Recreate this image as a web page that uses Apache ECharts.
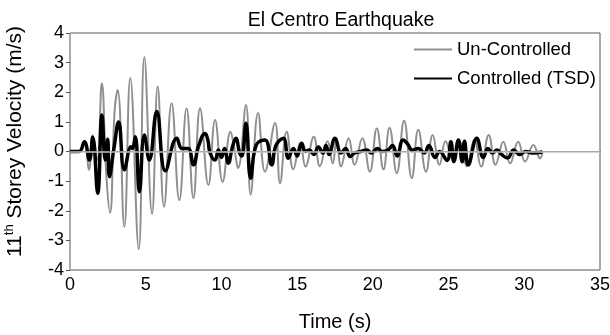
<!DOCTYPE html>
<html>
<head>
<meta charset="utf-8">
<script src="https://cdn.jsdelivr.net/npm/echarts@6/dist/echarts.min.js"></script>
<style>
  html, body { margin: 0; padding: 0; background: #fff; }
  #chart { width: 610px; height: 335px; }
</style>
</head>
<body>
<div id="chart"></div>
<script>
// peaks / troughs (time in s, velocity in m/s)
const unControlledTime = [
  0, 0.6, 0.95, 1.25, 1.5, 1.8, 2.1, 2.4, 2.64, 2.95, 3.15, 3.59, 3.98, 4.54, 4.91, 5.42, 5.79,
  6.21, 6.71, 7.22, 7.7, 8.15, 8.59, 9.14, 9.58, 10.08, 10.6, 10.85, 11.1, 11.62, 11.93, 12.42,
  12.88, 13.54, 13.87, 14.31, 14.75, 15.2, 15.55, 16.1, 16.5, 17.0, 17.35, 17.6, 17.9, 18.4,
  18.8, 19.3, 19.8, 20.26, 20.7, 21.1, 21.58, 22.06, 22.57, 23.0, 23.51, 23.95, 24.4, 24.8,
  25.3, 25.75, 26.2, 26.7, 27.15, 27.65, 28.1, 28.62, 29.06, 29.6, 30.05, 30.6, 31.04, 31.2
];
const unControlledVel = [
  0, 0, 0.3, -0.62, 0.55, -0.3, 2.3, -0.8, -2.07, 1.4, 2.08, -2.54, 2.48, -3.3, 3.19, -2.1, 2.19,
  -1.86, 1.63, -1.64, 1.46, -1.58, 1.46, -1.13, 1.06, -1.02, 0.67, 0.1, -0.56, 1.57, -1.45, 1.3,
  -0.68, 0.96, -1.07, 0.67, -0.6, 0.3, -0.51, 0.5, -0.5, 0.35, -0.4, 0.45, -0.5, 0.45,
  -0.45, 0.45, -0.68, 0.78, -0.6, 0.8, -0.73, 1.04, -0.9, 0.73, -0.68, 0.56, -0.45, 0.35,
  -0.3, 0.3, -0.5, 0.4, -0.51, 0.56, -0.45, 0.33, -0.4, 0.33, -0.34, 0.22, -0.23, 0
];

const controlledTime = [
  0, 0.6, 0.95, 1.28, 1.5, 1.83, 2.11, 2.33, 2.49, 2.6, 2.9, 3.21, 3.59, 4.03, 4.12, 4.31, 4.58,
  4.91, 5.24, 5.73, 6.3, 7.05, 7.4, 7.8, 8.15, 8.5, 8.92, 9.1, 9.25, 9.58, 9.8, 10.0, 10.2, 10.46,
  10.7, 10.96, 11.2, 11.35, 11.62, 11.93, 12.3, 12.88, 13.32, 13.6, 14.09, 14.42, 14.75, 15.0,
  15.3, 15.55, 15.8, 16.1, 16.4, 16.7, 16.9, 17.1, 17.5, 17.9, 18.2, 18.5, 18.8, 19.2, 19.6,
  19.9, 20.3, 20.6, 21.0, 21.3, 21.6, 22.0, 22.3, 22.6, 23.0, 23.4, 23.7, 24.1, 24.4, 24.9,
  25.15, 25.35, 25.65, 25.9, 26.05, 26.3, 26.86, 27.3, 27.6, 27.9, 28.2, 28.5, 28.9, 29.3,
  29.7, 30.1, 30.6, 31.2
];
const controlledVel = [
  0, 0, 0.33, -0.29, 0.48, -1.41, 1.23, -0.29, 0.41, -0.85, 0.1, 1.0, -0.62, 0.16, 0.1, 0.5, -1.36,
  0.56, -0.29, 1.35, -0.65, 0.45, 0.1, 0.1, -0.45, 0.2, 0.61, 0.4, -0.05, -0.29, 0.05, -0.2, 0.1, -0.4,
  0.1, 0.45, -0.05, -0.15, 0.95, -0.9, 0.22, 0.39, -0.45, 0.2, 0.45, -0.23, 0.1, -0.15,
  0.28, 0, 0.05, -0.1, 0.15, -0.05, 0.2, -0.1, 0.45, -0.05, 0.1, -0.17, -0.05, 0, 0.05,
  -0.05, 0.1, 0, 0.05, 0.2, -0.15, 0.39, 0.25, 0.05, 0.1, -0.05, 0.2, -0.2, 0, -0.3,
  0.33, -0.34, 0.39, -0.35, 0.35, -0.45, 0.45, -0.2, 0.1, -0.05, 0.05, -0.1, -0.22, 0.05,
  -0.1, 0, -0.05, -0.02
];

const xTicks = { min: 0, max: 35, interval: 5 };
const yTicks = { min: -4, max: 4, interval: 1 };

const pairs = (ts, vs) => ts.map((t, i) => [t, vs[i]]);

const chart = echarts.init(document.getElementById('chart'));
const font = 'Liberation Sans, Arial, sans-serif';

chart.setOption({
  animation: false,
  textStyle: { fontFamily: font },
  title: {
    text: 'El Centro Earthquake',
    left: 336,
    textAlign: 'center',
    top: 6,
    textStyle: { fontSize: 19.5, fontWeight: 'normal', color: '#000', fontFamily: font },
  },
  legend: {
    orient: 'vertical',
    left: 408,
    top: 35,
    itemWidth: 38,
    itemHeight: 14,
    itemGap: 10,
    itemStyle: { opacity: 0 },
    textStyle: { fontSize: 18.5, color: '#000', fontFamily: font },
    data: ['Un-Controlled', 'Controlled (TSD)'],
  },
  grid: {
    left: 70,
    right: 10,
    top: 33,
    bottom: 65,
    containLabel: false,
    outerBoundsMode: 'none',
    show: true,
    borderColor: '#555',
    borderWidth: 1,
  },
  xAxis: {
    type: 'value',
    ...xTicks,
    name: 'Time (s)',
    nameLocation: 'middle',
    nameGap: 42,
    nameTextStyle: { fontSize: 20, color: '#000', fontFamily: font },
    axisLine: { lineStyle: { color: '#555' } },
    axisTick: { show: false },
    splitLine: { show: false },
    axisLabel: { fontSize: 18, color: '#000', margin: 6, fontFamily: font },
  },
  yAxis: {
    type: 'value',
    ...yTicks,
    name: '{n|11}{s|th}{n| Storey Velocity (m/s)}',
    nameLocation: 'middle',
    nameGap: 44,
    nameTextStyle: {
      padding: [0, 0, 0, 20],
      rich: {
        n: { fontSize: 21, color: '#000', fontFamily: font, lineHeight: 23, verticalAlign: 'bottom' },
        s: { fontSize: 13, color: '#000', fontFamily: font, lineHeight: 23, verticalAlign: 'top' },
      },
    },
    axisLine: { show: true, lineStyle: { color: '#aaa' } },
    axisTick: { show: true, length: 4, lineStyle: { color: '#555' } },
    splitLine: { show: false },
    axisLabel: { fontSize: 18, color: '#000', margin: 6, fontFamily: font },
  },
  series: [
    {
      name: 'Un-Controlled',
      type: 'line',
      symbol: 'none',
      smooth: 0.45,
      data: pairs(unControlledTime, unControlledVel),
      lineStyle: { color: '#8f8f8f', width: 2 },
      itemStyle: { color: '#8f8f8f' },
      z: 2,
      markLine: {
        silent: true,
        symbol: 'none',
        label: { show: false },
        lineStyle: { color: '#c4c4c4', width: 1.5, type: 'solid' },
        data: [{ yAxis: 0 }],
      },
    },
    {
      name: 'Controlled (TSD)',
      type: 'line',
      symbol: 'none',
      smooth: 0.45,
      data: pairs(controlledTime, controlledVel),
      lineStyle: { color: '#000', width: 3.5 },
      itemStyle: { color: '#000' },
      z: 3,
    },
  ],
});
</script>
</body>
</html>
